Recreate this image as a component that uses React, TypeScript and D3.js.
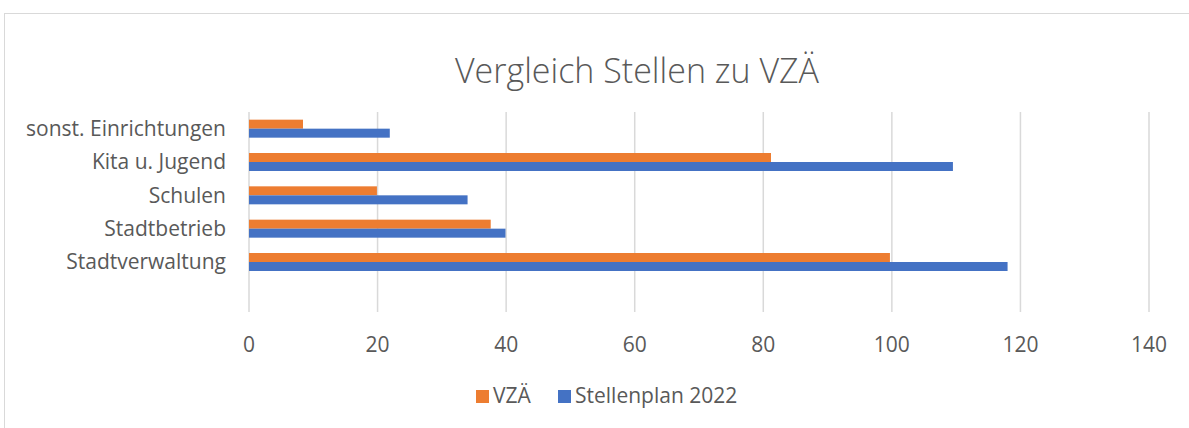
import React, { useRef, useEffect } from 'react';
import * as d3 from 'd3';

const categories = ['', 'Stadtverwaltung', 'Stadtbetrieb', 'Schulen', 'Kita u. Jugend', 'sonst. Einrichtungen'];
const vzae = [null, 99.7, 37.6, 19.9, 81.2, 8.4];
const stellenplan = [null, 118.0, 39.9, 34.0, 109.5, 21.9];
const xTicks = [0, 20, 40, 60, 80, 100, 120, 140];
const seriesNames = ['VZÄ', 'Stellenplan 2022'];
const colors = ['#ED7D31', '#4472C4'];

const W = 1189;
const H = 428;
const FONT = '"Open Sans", sans-serif';

const App = () => {
  const svgRef = useRef<SVGSVGElement>(null);

  useEffect(() => {
    const svg = d3.select(svgRef.current).attr('width', W).attr('height', H);
    svg.selectAll('*').remove();

    // chart border
    svg.append('rect')
      .attr('x', 4.5).attr('y', 13.5)
      .attr('width', 1300).attr('height', 600)
      .attr('fill', '#fff').attr('stroke', '#d9d9d9');

    svg.append('text')
      .attr('x', 637).attr('y', 83)
      .attr('text-anchor', 'middle')
      .attr('font-family', FONT).attr('font-weight', 300)
      .attr('font-size', 34).attr('fill', '#595959')
      .text('Vergleich Stellen zu VZÄ');

    const x = d3.scaleLinear().domain([0, 140]).range([249, 1149]);
    // bottom-to-top category order
    const y = d3.scaleBand<string>().domain([...categories].reverse()).range([112, 312]).paddingInner(0.46).paddingOuter(0.23);

    const g = svg.append('g');

    // gridlines
    g.selectAll('.grid')
      .data(xTicks)
      .enter()
      .append('line')
      .attr('x1', d => x(d)).attr('x2', d => x(d))
      .attr('y1', 112).attr('y2', 312)
      .attr('stroke', '#d9d9d9').attr('stroke-width', 1.5);

    g.selectAll('.tick')
      .data(xTicks)
      .enter()
      .append('text')
      .attr('x', d => x(d)).attr('y', 352)
      .attr('text-anchor', 'middle')
      .attr('font-family', FONT).attr('font-size', 21).attr('fill', '#595959')
      .text(d => d);

    const bh = y.bandwidth() / 2;
    const rows = categories.map((c, i) => ({ c, v: vzae[i], s: stellenplan[i] })).filter(r => r.v !== null);

    // VZÄ bars (upper)
    g.selectAll('.vz')
      .data(rows)
      .enter()
      .append('rect')
      .attr('x', x(0))
      .attr('y', d => y(d.c)!)
      .attr('width', d => x(d.v as number) - x(0))
      .attr('height', bh)
      .attr('fill', colors[0]);

    // Stellenplan bars (lower)
    g.selectAll('.sp')
      .data(rows)
      .enter()
      .append('rect')
      .attr('x', x(0))
      .attr('y', d => y(d.c)! + bh)
      .attr('width', d => x(d.s as number) - x(0))
      .attr('height', bh)
      .attr('fill', colors[1]);

    g.selectAll('.cat')
      .data(rows)
      .enter()
      .append('text')
      .attr('x', 226)
      .attr('y', d => y(d.c)! + y.bandwidth() / 2)
      .attr('dy', '0.35em')
      .attr('text-anchor', 'end')
      .attr('font-family', FONT).attr('font-size', 21).attr('fill', '#595959')
      .text(d => d.c);

    // legend
    const legendX = [476, 558];
    const lg = svg.selectAll('.lg')
      .data(seriesNames)
      .enter()
      .append('g')
      .attr('transform', (d, i) => `translate(${legendX[i]}, 390)`);
    lg.append('rect').attr('width', 13).attr('height', 13).attr('fill', (d, i) => colors[i]);
    lg.append('text')
      .attr('x', 17).attr('y', 13)
      .attr('font-family', FONT).attr('font-size', 21).attr('fill', '#595959')
      .text(d => d);
  }, []);

  return <svg ref={svgRef} style={{ position: 'absolute', left: 0, top: 0 }}></svg>;
};

export default App;
